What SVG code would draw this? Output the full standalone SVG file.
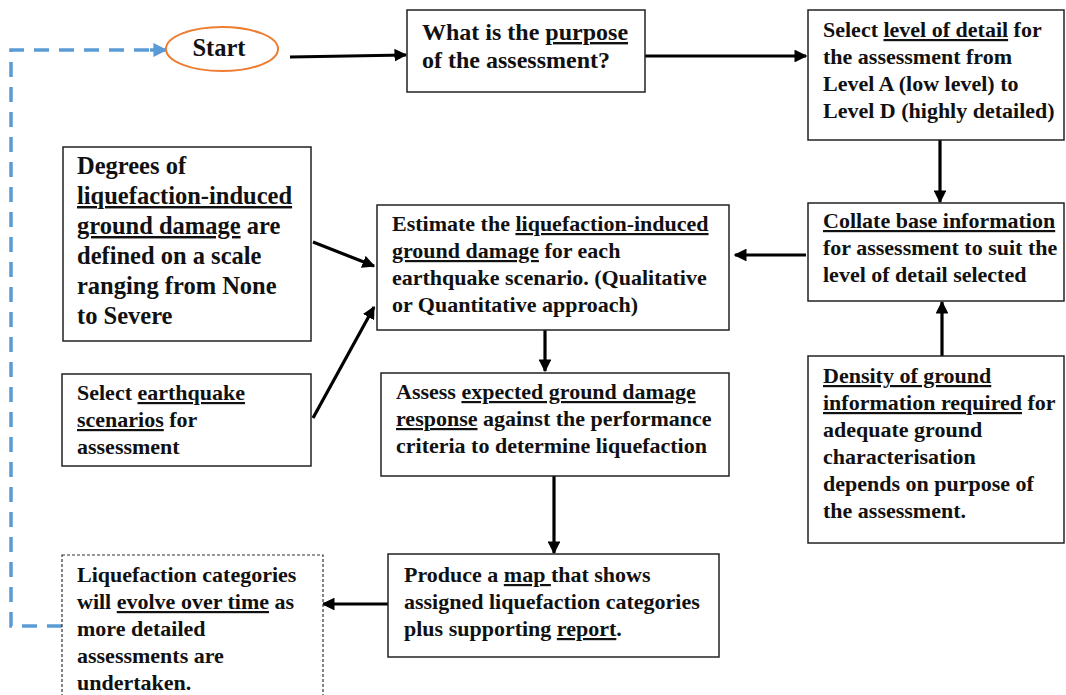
<svg xmlns="http://www.w3.org/2000/svg" width="1066" height="695" viewBox="0 0 1066 695">
<defs>
<style>
.box{fill:#fff;stroke:#222;stroke-width:1.5}
.dbox{fill:#fff;stroke:#333;stroke-width:1.2;stroke-dasharray:3 2}
.t{font-family:"Liberation Serif","Times New Roman",serif;font-weight:bold;font-size:22px;fill:#111}
.big{font-size:24.5px}
.mid{font-size:24px}
.u{text-decoration:underline}
.conn{stroke:#000;stroke-width:3.2;fill:none;marker-end:url(#ah)}
.blue{stroke:#5B9BD5;stroke-width:3.5;fill:none;stroke-dasharray:15 10}
</style>
<marker id="ah" viewBox="0 0 10 10" refX="9" refY="5" markerWidth="4" markerHeight="4" orient="auto" markerUnits="strokeWidth">
<path d="M0,0 L10,5 L0,10 z" fill="#000"/>
</marker>
<marker id="ahb" viewBox="0 0 10 10" refX="9" refY="5" markerWidth="4" markerHeight="4" orient="auto" markerUnits="strokeWidth">
<path d="M0,0 L10,5 L0,10 z" fill="#5B9BD5"/>
</marker>
</defs>
<rect width="1066" height="695" fill="#fff"/>

<g id="connectors">
<path class="blue" d="M62,626 H11 V50 H150"/>
<path d="M150,50 H166" stroke="#5B9BD5" stroke-width="3.5" marker-end="url(#ahb)"/>
<line class="conn" x1="290" y1="57" x2="406" y2="55"/>
<line class="conn" x1="645" y1="56" x2="806" y2="56"/>
<line class="conn" x1="940" y1="140" x2="940" y2="202"/>
<line class="conn" x1="806" y1="255" x2="735" y2="255"/>
<line class="conn" x1="942" y1="356" x2="942" y2="302"/>
<line class="conn" x1="313" y1="242" x2="374" y2="266"/>
<line class="conn" x1="313" y1="418" x2="374" y2="307"/>
<line class="conn" x1="545" y1="330" x2="545" y2="371"/>
<line class="conn" x1="554" y1="476" x2="554" y2="553"/>
<line class="conn" x1="388" y1="604" x2="323" y2="604"/>
</g>

<g id="start">
<ellipse cx="222" cy="49" rx="56" ry="22" fill="#fff" stroke="#ED7D31" stroke-width="2"/>
<text class="t big" x="219" y="56" text-anchor="middle">Start</text>
</g>

<g id="purpose">
<rect class="box" x="407" y="10" width="238" height="82"/>
<text class="t mid" x="422"><tspan x="422" y="40">What is the <tspan class="u">purpose</tspan></tspan><tspan x="422" y="68">of the assessment?</tspan></text>
</g>

<g id="level">
<rect class="box" x="808" y="10" width="256" height="130"/>
<text class="t"><tspan x="823" y="37">Select <tspan class="u">level of detail</tspan> for</tspan><tspan x="823" y="64">the assessment  from</tspan><tspan x="823" y="91">Level A (low level) to</tspan><tspan x="823" y="118">Level D (highly detailed)</tspan></text>
</g>

<g id="collate">
<rect class="box" x="808" y="203" width="256" height="98"/>
<text class="t"><tspan x="823" y="228" class="u">Collate base information</tspan><tspan x="823" y="255">for assessment  to suit the</tspan><tspan x="823" y="282">level of detail selected</tspan></text>
</g>

<g id="density">
<rect class="box" x="808" y="356" width="256" height="187"/>
<text class="t"><tspan x="823" y="383"><tspan class="u">Density of ground</tspan></tspan><tspan x="823" y="410"><tspan class="u">information required</tspan>  for</tspan><tspan x="823" y="437">adequate ground</tspan><tspan x="823" y="464">characterisation</tspan><tspan x="823" y="491">depends on purpose of</tspan><tspan x="823" y="518">the assessment.</tspan></text>
</g>

<g id="degrees">
<rect class="box" x="63" y="147" width="248" height="194"/>
<text class="t big"><tspan x="77" y="174">Degrees of</tspan><tspan x="77" y="204" class="u">liquefaction-induced</tspan><tspan x="77" y="234"><tspan class="u">ground damage</tspan> are</tspan><tspan x="77" y="264">defined on a scale</tspan><tspan x="77" y="294">ranging from None</tspan><tspan x="77" y="324">to Severe</tspan></text>
</g>

<g id="estimate">
<rect class="box" x="377" y="205" width="352" height="125"/>
<text class="t"><tspan x="392" y="231">Estimate the <tspan class="u">liquefaction-induced</tspan></tspan><tspan x="392" y="258"><tspan class="u">ground damage</tspan> for each</tspan><tspan x="392" y="285">earthquake scenario.  (Qualitative</tspan><tspan x="392" y="312">or Quantitative approach)</tspan></text>
</g>

<g id="earthquake">
<rect class="box" x="62" y="374" width="249" height="92"/>
<text class="t"><tspan x="77" y="400">Select <tspan class="u">earthquake</tspan></tspan><tspan x="77" y="427"><tspan class="u">scenarios</tspan> for</tspan><tspan x="77" y="454">assessment</tspan></text>
</g>

<g id="assess">
<rect class="box" x="381" y="373" width="348" height="103"/>
<text class="t"><tspan x="396" y="399">Assess  <tspan class="u">expected  ground damage</tspan></tspan><tspan x="396" y="426"><tspan class="u">response</tspan> against the performance</tspan><tspan x="396" y="453">criteria  to determine liquefaction</tspan></text>
</g>

<g id="produce">
<rect class="box" x="388" y="554" width="331" height="103"/>
<text class="t"><tspan x="404" y="582">Produce a <tspan class="u">map </tspan>that shows</tspan><tspan x="404" y="609">assigned liquefaction categories</tspan><tspan x="404" y="636">plus supporting <tspan class="u">report</tspan>.</tspan></text>
</g>

<g id="categories">
<rect class="dbox" x="62" y="555" width="261" height="150"/>
<text class="t"><tspan x="77" y="582">Liquefaction categories</tspan><tspan x="77" y="609">will <tspan class="u">evolve over time</tspan> as</tspan><tspan x="77" y="636">more detailed</tspan><tspan x="77" y="663">assessments  are</tspan><tspan x="77" y="690">undertaken.</tspan></text>
</g>
</svg>
